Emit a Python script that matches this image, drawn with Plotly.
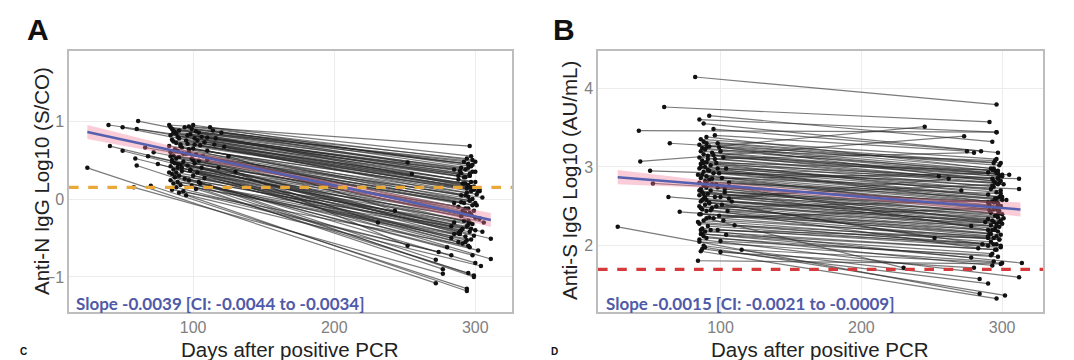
import plotly.graph_objects as go

W, H = 1074, 360

# ---------------- Panel A: Anti-N IgG (log10 S/CO) ----------------
a_x1 = [25, 40, 50, 41, 50, 61, 60, 59, 60, 58, 66, 68, 70, 72, 75,
        83, 84, 85, 86, 87, 88, 84, 89, 90, 85, 86, 88, 91, 83, 92, 87, 89, 84, 95, 86,
        90, 88, 85, 93, 87, 91, 84, 89, 86, 92, 88, 85, 90, 87, 94, 84, 89, 86, 91, 88,
        85, 93, 90, 97, 99, 100, 102, 104, 98, 106, 101, 103, 108, 96, 105, 100, 110, 97, 102, 107,
        99, 104, 101, 96, 106, 98, 103, 100, 108, 97, 105, 99, 102, 112, 95, 120, 115, 125, 118, 130,
        112, 114, 116, 122, 110, 85, 92, 88, 95, 90, 83, 87, 93, 96, 101, 89, 94, 86, 91, 98,
        104, 84, 110, 97, 100]
a_y1 = [0.40, 0.95, 0.92, 0.68, 0.62, 1.00, 0.90, 0.52, 0.43, 0.15, 0.66, 0.55, 0.17, 0.60, 0.45,
        0.95, 0.92, 0.90, 0.88, 0.86, 0.84, 0.82, 0.80, 0.78, 0.76, 0.74, 0.72, 0.70, 0.68, 0.66, 0.64, 0.62, 0.60, 0.58, 0.56,
        0.54, 0.52, 0.50, 0.48, 0.46, 0.44, 0.42, 0.40, 0.38, 0.36, 0.34, 0.32, 0.30, 0.28, 0.26, 0.24, 0.22, 0.20, 0.18, 0.15,
        0.12, 0.10, 0.08, 0.93, 0.90, 0.95, 0.87, 0.85, 0.83, 0.80, 0.78, 0.75, 0.73, 0.71, 0.69, 0.65, 0.62, 0.60, 0.57, 0.55,
        0.52, 0.49, 0.46, 0.43, 0.40, 0.37, 0.34, 0.30, 0.27, 0.24, 0.20, 0.17, 0.13, 0.16, 0.05, 0.85, 0.70, 0.55, 0.40, 0.35,
        0.92, 0.88, 0.78, 0.67, 0.50, 0.48, 0.40, 0.62, 0.75, 0.88, 0.34, 0.28, 0.58, 0.82, 0.70, 0.45, 0.92, 0.85, 0.68, 0.38,
        0.22, 0.55, 0.79, 0.64, 0.50]
a_x2 = [272, 296, 293, 290, 285, 297, 292, 283, 299, 277, 300, 296, 294, 303, 288,
        296, 294, 292, 295, 290, 285, 298, 296, 293, 300, 291, 295, 297, 299, 302, 294, 290, 305, 298, 296,
        292, 301, 288, 295, 299, 293, 297, 290, 303, 295, 285, 298, 294, 291, 300, 296, 289, 293, 297, 274,
        295, 283, 304, 298, 295, 297, 293, 300, 296, 292, 288, 299, 294, 297, 301, 295, 290, 298, 293, 296,
        300, 292, 295, 297, 289, 299, 294, 291, 296, 302, 298, 277, 295, 299, 294, 252, 255, 243, 231, 252,
        297, 295, 290, 293, 297, 311, 311, 306, 303, 300, 272, 280, 285, 289, 303, 305, 298, 288, 296, 293,
        300, 283, 297, 291, 288]
a_y2 = [-1.08, 0.30, 0.05, -0.40, -0.45, 0.15, 0.20, -0.50, -0.98, -0.96, -0.05, -0.30, -1.15, -0.25, -0.55,
        0.68, 0.52, 0.48, 0.45, 0.40, 0.38, 0.35, 0.30, 0.28, 0.22, 0.20, 0.18, 0.15, 0.12, 0.10, 0.08, 0.05, 0.02, 0.00, -0.02,
        -0.05, -0.08, -0.10, -0.12, -0.15, -0.18, -0.20, -0.22, -0.25, -0.28, -0.30, -0.32, -0.35, -0.38, -0.40, -0.42, -0.45, -0.48, -0.52, -0.68,
        -0.60, -0.72, -0.86, 0.50, 0.45, 0.42, 0.38, 0.35, 0.32, 0.28, 0.25, 0.16, 0.14, 0.10, 0.06, 0.03, -0.04, -0.08, -0.12, -0.18,
        -0.24, -0.28, -0.33, -0.38, -0.42, -0.47, -0.53, -0.57, -0.62, -0.66, -0.72, -0.90, -0.95, -1.00, -1.18, 0.47, 0.32, -0.15, -0.30, -0.60,
        0.55, 0.40, 0.33, 0.20, -0.20, -0.51, -0.77, -0.30, 0.10, 0.48, -0.78, -0.62, -0.05, 0.36, 0.12, -0.42, 0.44, 0.30, -0.02, -0.55,
        -0.82, -0.35, 0.22, -0.15, -0.44]

a_reg_x = [25, 96, 168, 240, 311]
a_reg_y = [0.86, 0.58, 0.30, 0.02, -0.27]
a_reg_lo = [0.77, 0.53, 0.27, -0.03, -0.36]
a_reg_hi = [0.95, 0.63, 0.33, 0.07, -0.18]
a_cutoff = 0.15
a_slope_text = "Slope -0.0039 [CI: -0.0044 to -0.0034]"

# ---------------- Panel B: Anti-S IgG (log10 AU/mL) ----------------
b_x1 = [27, 82, 60, 42, 43, 64, 50, 52, 63, 71, 84, 85, 92, 88, 95, 90,
        86, 88, 90, 85, 92, 87, 89, 86, 94, 88, 91, 85, 96, 87, 90, 86, 93, 89, 85,
        91, 88, 95, 87, 90, 86, 92, 89, 85, 94, 88, 90, 86, 93, 87, 91, 85, 96, 88,
        90, 86, 92, 89, 85, 94, 87, 90, 86, 92, 88, 85, 91, 87, 89, 86, 90, 85, 88,
        87, 86, 89, 85, 86, 84, 100, 98, 100, 102, 97, 104, 99, 101, 106, 98, 103, 100,
        108, 97, 105, 99, 102, 110, 98, 104, 100, 115, 106, 95, 92, 90, 96, 88, 85, 93,
        87, 91, 94, 89, 86, 92, 97, 84, 90, 101, 88, 95, 99, 87, 103, 86, 90, 93, 85, 98, 88]
b_y1 = [2.24, 4.14, 3.76, 3.46, 3.07, 3.30, 2.95, 2.79, 2.62, 2.43, 1.81, 3.60, 3.65, 3.55, 3.48, 3.25,
        3.35, 3.32, 3.30, 3.28, 3.26, 3.24, 3.22, 3.20, 3.18, 3.16, 3.14, 3.12, 3.10, 3.08, 3.06, 3.04, 3.02, 3.00, 2.98,
        2.96, 2.94, 2.92, 2.90, 2.88, 2.86, 2.84, 2.82, 2.80, 2.78, 2.76, 2.74, 2.72, 2.70, 2.68, 2.66, 2.64, 2.62, 2.60,
        2.58, 2.56, 2.54, 2.52, 2.50, 2.48, 2.46, 2.44, 2.40, 2.36, 2.32, 2.28, 2.25, 2.22, 2.18, 2.15, 2.10, 2.05, 2.00,
        1.96, 1.93, 1.98, 2.08, 2.20, 2.30, 1.92, 3.30, 3.20, 3.12, 3.05, 2.98, 2.92, 2.86, 2.80, 2.74, 2.68, 2.62,
        2.56, 2.50, 2.44, 2.38, 2.32, 2.26, 2.20, 2.14, 2.06, 1.95, 2.60, 3.15, 2.55, 2.35, 3.40, 3.05, 2.70, 2.45,
        2.15, 3.10, 2.85, 2.62, 2.48, 2.95, 2.78, 2.90, 3.38, 2.52, 2.12, 2.35, 3.25, 2.58, 2.72, 3.00, 2.80, 2.20, 2.40, 2.98, 2.66]
b_x2 = [284, 296, 291, 296, 273, 294, 298, 290, 288, 292, 299, 296, 293, 297, 285, 245,
        296, 299, 294, 297, 290, 300, 295, 298, 293, 297, 305, 299, 295, 301, 294, 297, 292, 299, 296,
        290, 298, 295, 300, 293, 297, 291, 299, 296, 294, 298, 292, 300, 295, 297, 290, 299, 294, 296,
        292, 298, 295, 293, 297, 291, 299, 296, 294, 298, 292, 296, 290, 299, 295, 293, 297, 294, 284,
        290, 296, 302, 312, 314, 299, 280, 298, 295, 300, 293, 297, 312, 312, 296, 294, 299, 291,
        297, 293, 300, 295, 290, 298, 294, 296, 292, 300, 262, 255, 252, 230, 275, 271, 278, 283,
        278, 280, 296, 297, 303, 300, 290, 297, 292, 286, 293, 297, 294, 301, 298, 296, 299, 290, 296, 293, 297]
b_y2 = [1.39, 3.79, 3.57, 3.44, 3.39, 3.05, 2.80, 2.55, 2.30, 2.15, 1.77, 3.44, 3.32, 3.18, 3.20, 3.51,
        3.10, 3.05, 2.98, 2.95, 2.93, 2.90, 3.08, 2.88, 2.85, 2.92, 2.90, 2.82, 2.80, 2.78, 2.75, 2.86, 2.72, 2.70, 2.68,
        2.65, 2.62, 2.60, 2.58, 2.56, 2.54, 2.52, 2.50, 2.48, 2.46, 2.44, 2.42, 2.40, 2.38, 2.36, 2.34, 2.32, 2.30, 2.28,
        2.26, 2.24, 2.22, 2.20, 2.18, 2.16, 2.14, 2.12, 2.10, 2.08, 2.05, 2.02, 2.00, 1.98, 1.95, 1.90, 1.86, 1.80, 1.58,
        1.52, 1.33, 1.37, 1.60, 1.78, 2.00, 1.72, 3.02, 2.95, 2.88, 2.96, 2.85, 2.85, 2.72, 2.60, 2.55, 2.50, 2.45,
        2.40, 2.32, 2.28, 2.20, 2.12, 2.08, 2.02, 1.95, 1.88, 1.78, 2.85, 2.88, 2.10, 1.72, 3.20, 2.70, 2.25, 1.97,
        1.85, 3.18, 2.92, 2.78, 2.58, 2.62, 2.20, 2.45, 2.98, 2.02, 1.75, 2.48, 2.82, 2.35, 2.30, 2.55, 2.66, 2.10, 2.25, 2.76, 2.50]

b_reg_x = [27, 98, 170, 241, 313]
b_reg_y = [2.87, 2.77, 2.66, 2.56, 2.46]
b_reg_lo = [2.78, 2.73, 2.63, 2.52, 2.37]
b_reg_hi = [2.96, 2.81, 2.69, 2.60, 2.55]
b_cutoff = 1.70
b_slope_text = "Slope -0.0015 [CI: -0.0021 to -0.0009]"

# ---------------- Layout geometry (pixels) ----------------
A_L, A_R = 61, 504
B_L, B_R = 590, 1035
P_T, P_B = 43, 304
A_XR, A_YR = [12, 326], [-1.45, 1.9]
B_XR, B_YR = [13, 329], [1.16, 4.47]

def px(x):
    return x / W

def py(y):
    return 1 - y / H

fig = go.Figure()

def add_panel(x1, y1, x2, y2, rx, ry, rlo, rhi, cut, cut_color, xa, ya):
    lx, ly = [], []
    for a, b, c, d in zip(x1, y1, x2, y2):
        lx += [a, c, None]
        ly += [b, d, None]
    fig.add_trace(go.Scatter(x=lx, y=ly, mode="lines",
                             line=dict(color="rgba(40,40,40,0.62)", width=1.2),
                             xaxis=xa, yaxis=ya, hoverinfo="skip", showlegend=False))
    fig.add_trace(go.Scatter(x=list(x1) + list(x2), y=list(y1) + list(y2), mode="markers",
                             marker=dict(color="#111111", size=4.5),
                             xaxis=xa, yaxis=ya, showlegend=False))
    fig.add_trace(go.Scatter(x=rx + rx[::-1], y=rhi + rlo[::-1], fill="toself",
                             fillcolor="rgba(240,120,150,0.38)", line=dict(width=0),
                             mode="lines", xaxis=xa, yaxis=ya, hoverinfo="skip", showlegend=False))
    fig.add_trace(go.Scatter(x=rx, y=ry, mode="lines",
                             line=dict(color="#5560b0", width=2.5),
                             xaxis=xa, yaxis=ya, showlegend=False))
    xr = A_XR if xa == "x" else B_XR
    fig.add_trace(go.Scatter(x=xr, y=[cut, cut], mode="lines",
                             line=dict(color=cut_color, width=3.2, dash="dash"),
                             xaxis=xa, yaxis=ya, showlegend=False))

add_panel(a_x1, a_y1, a_x2, a_y2, a_reg_x, a_reg_y, a_reg_lo, a_reg_hi, a_cutoff, "#e9a93a", "x", "y")
add_panel(b_x1, b_y1, b_x2, b_y2, b_reg_x, b_reg_y, b_reg_lo, b_reg_hi, b_cutoff, "#d63a3a", "x2", "y2")

axis_common = dict(showline=True, mirror=True, linecolor="#bdbdbd", linewidth=1.5,
                   showgrid=True, gridcolor="#ececec", gridwidth=1, zeroline=False,
                   ticks="", tickfont=dict(family="Liberation Sans, Arial", size=16, color="#808080"))

fig.update_layout(
    width=W, height=H, margin=dict(l=0, r=0, t=0, b=0),
    paper_bgcolor="white", plot_bgcolor="white", showlegend=False,
    xaxis=dict(domain=[px(A_L), px(A_R)], range=A_XR, tickvals=[100, 200, 300], anchor="y", **axis_common),
    yaxis=dict(domain=[py(P_B), py(P_T)], range=A_YR, tickvals=[-1, 0, 1], anchor="x", **axis_common),
    xaxis2=dict(domain=[px(B_L), px(B_R)], range=B_XR, tickvals=[100, 200, 300], anchor="y2", **axis_common),
    yaxis2=dict(domain=[py(P_B), py(P_T)], range=B_YR, tickvals=[2, 3, 4], anchor="x2", **axis_common),
)

title_font = dict(family="Liberation Sans, Arial", size=20.5, color="#222222")
letter_font = dict(family="Liberation Sans, Arial", size=30, color="#111111")
small_letter = dict(family="Liberation Sans, Arial", size=10, color="#111111")
ann = [
    dict(text="<b>A</b>", x=px(17), y=py(21), xanchor="left", yanchor="middle", font=letter_font),
    dict(text="<b>B</b>", x=px(543), y=py(21), xanchor="left", yanchor="middle", font=letter_font),
    dict(text="<b>C</b>", x=px(10), y=py(351), xanchor="left", yanchor="bottom", font=small_letter),
    dict(text="<b>D</b>", x=px(541), y=py(351), xanchor="left", yanchor="bottom", font=small_letter),
    dict(text="Days after positive PCR", x=px(282), y=py(341), xanchor="center", yanchor="middle", font=title_font),
    dict(text="Days after positive PCR", x=px(812), y=py(341), xanchor="center", yanchor="middle", font=title_font),
    dict(text="Anti-N IgG Log10 (S/CO)", x=px(33), y=py(173), xanchor="center", yanchor="middle",
         textangle=-90, font=title_font),
    dict(text="Anti-S IgG Log10 (AU/mL)", x=px(561), y=py(173), xanchor="center", yanchor="middle",
         textangle=-90, font=title_font),
    dict(text="<b>" + a_slope_text + "</b>", x=px(66), y=py(295), xanchor="left", yanchor="middle",
         font=dict(family="Lato, Open Sans", size=17, color="#4f5aa8")),
    dict(text="<b>" + b_slope_text + "</b>", x=px(596), y=py(295), xanchor="left", yanchor="middle",
         font=dict(family="Lato, Open Sans", size=17, color="#4f5aa8")),
]
for a in ann:
    a.update(xref="paper", yref="paper", showarrow=False)
fig.update_layout(annotations=ann)

fig.write_html("out.html")
